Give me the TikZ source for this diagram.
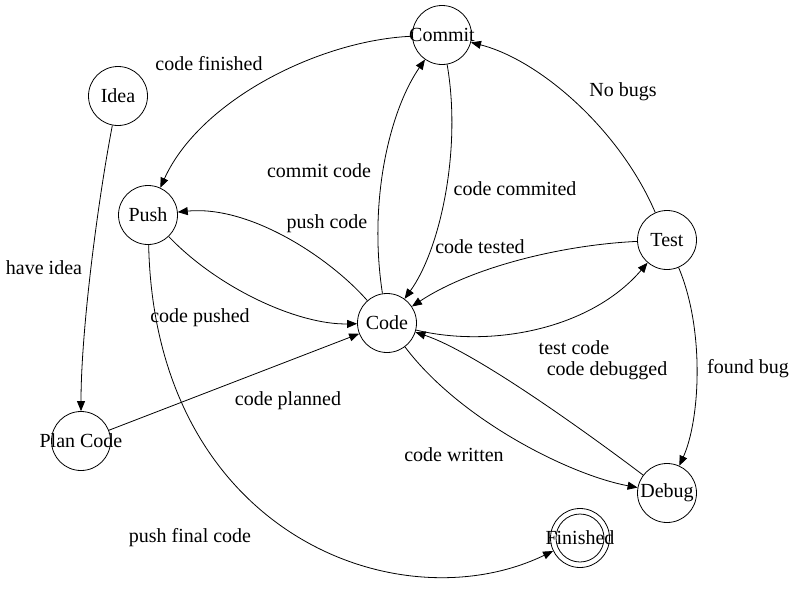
\documentclass[tikz,border=0pt]{standalone}
\usepackage{fontspec}
\setmainfont{Liberation Serif}
\usetikzlibrary{arrows.meta}
\begin{document}
\begin{tikzpicture}[x=1pt,y=-1pt,
  every node/.style={font=\fontsize{20}{24}\selectfont},
  state/.style={circle,draw,line width=0.8pt,minimum size=59pt,inner sep=0pt},
  lbl/.style={inner sep=0pt},
  edge/.style={line width=0.8pt,-{Triangle[length=10pt,width=8pt]}}]
\fill[white] (0,0) rectangle (798,598);
\useasboundingbox (0,0) rectangle (798,598);
% states
\node[state] (commit) at (442,35) {\makebox[0pt]{Commit}};
\node[state] (idea) at (118,96) {\makebox[0pt]{Idea}};
\node[state] (push) at (148,215) {\makebox[0pt]{Push}};
\node[state] (code) at (387,323) {\makebox[0pt]{Code}};
\node[state] (test) at (667,240) {\makebox[0pt]{Test}};
\node[state] (plan) at (81,441) {\makebox[0pt]{Plan Code}};
\node[state] (debug) at (667,493) {\makebox[0pt]{Debug}};
\node[state] (fin) at (580,538) {\makebox[0pt]{Finished}};
\draw[line width=0.8pt] (fin.center) circle[radius=24pt];
% edges
\draw[edge] (idea) .. controls (98,200) and (81,330) .. (plan);
\draw[edge] (plan) -- (code);
\draw[edge] (push) .. controls (220,290) and (300,325) .. (code);
\draw[edge] (code) .. controls (330,258) and (250,205) .. (push);
\draw[edge] (code) .. controls (368,200) and (390,110) .. (commit);
\draw[edge] (commit) .. controls (462,150) and (440,250) .. (code);
\draw[edge] (commit) .. controls (320,40) and (200,100) .. (push);
\draw[edge] (test) .. controls (620,130) and (540,60) .. (commit);
\draw[edge] (test) .. controls (560,245) and (470,268) .. (code);
\draw[edge] (code) .. controls (490,348) and (590,330) .. (test);
\draw[edge] (debug) .. controls (570,420) and (470,350) .. (code);
\draw[edge] (code) .. controls (460,420) and (570,475) .. (debug);
\draw[edge] (test) .. controls (705,330) and (700,420) .. (debug);
\draw[edge] (push) .. controls (155,535) and (400,625) .. (fin);
% labels
\node[lbl] (l1) at (209,64) {code finished};
\node[lbl] (l2) at (44,268) {have idea};
\node[lbl] (l3) at (319,171) {commit code};
\node[lbl] (l4) at (515,189) {code commited};
\node[lbl] (l5) at (327,224) {push code};
\node[lbl] (l6) at (480,247) {code tested};
\node[lbl] (l7) at (200,318) {code pushed};
\node[lbl] (l8) at (623,92) {No bugs};
\node[lbl] (l9) at (574,348) {test code};
\node[lbl] (l10) at (607,371) {code debugged};
\node[lbl] (l11) at (748,369) {found bug};
\node[lbl] (l12) at (288,401) {code planned};
\node[lbl] (l13) at (454,455) {code written};
\node[lbl] (l14) at (190,538) {push final code};
\end{tikzpicture}
\end{document}
